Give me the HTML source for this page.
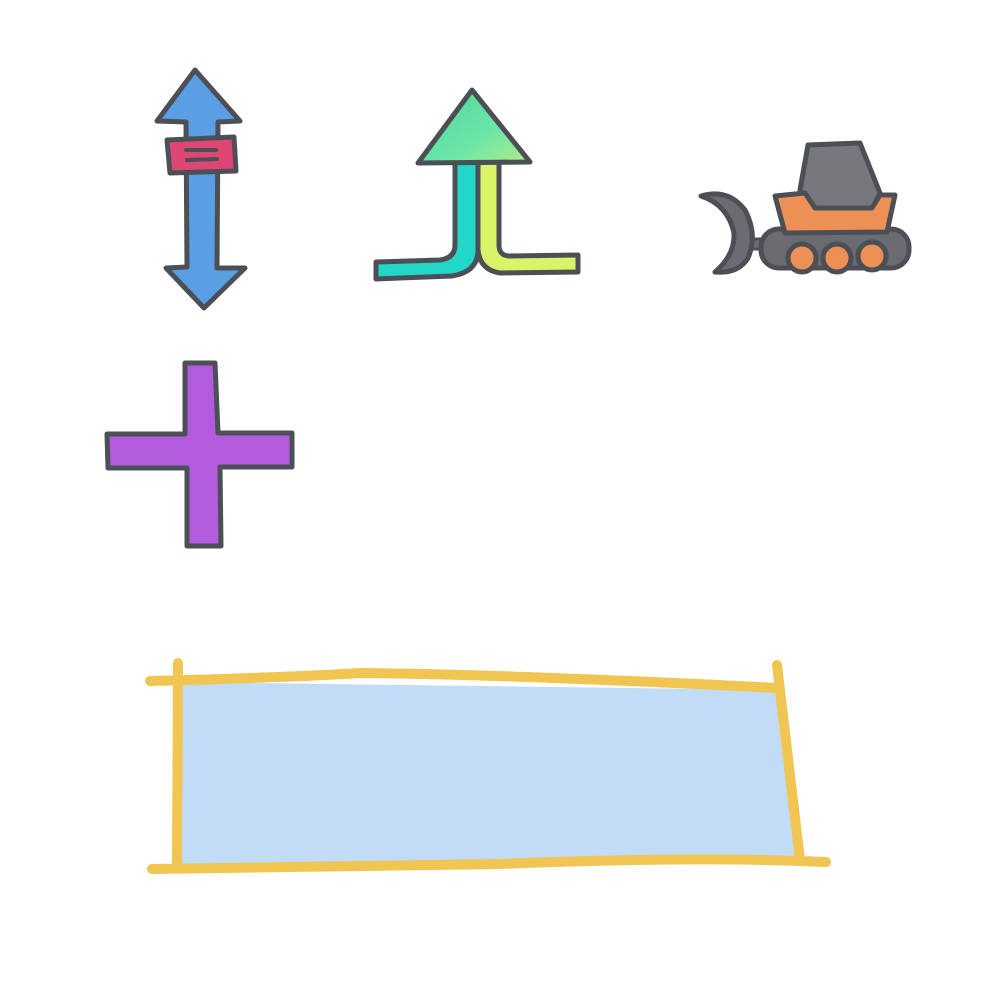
<!DOCTYPE html>
<html><head><meta charset="utf-8"><style>
html,body{margin:0;padding:0;background:#fff;}
svg{display:block;}
</style></head><body>
<svg width="1000" height="1000" viewBox="0 0 1000 1000">
<defs>
<linearGradient id="hg" x1="0" y1="0" x2="1" y2="1"><stop offset="0" stop-color="#52d49a"/><stop offset="0.6" stop-color="#6ae6a8"/><stop offset="1" stop-color="#b2ec8a"/></linearGradient>
</defs>
<g stroke="#4d4f57" stroke-width="5" stroke-linejoin="round" stroke-linecap="round">
<g>
<polygon points="195,70 240,121 218,122 217,268 245,268 204,308 166,268 187,267 186,122 157,121" fill="#5a9ee3"/>
<polygon points="167,140 234,137 236,171 170,173" fill="#de4674"/>
<line x1="186" y1="150" x2="216" y2="150" stroke-width="4"/>
<line x1="187" y1="160" x2="217" y2="159" stroke-width="4"/>
</g>
<g>
<path d="M455,162 L455,245 Q455,258 440,260 L376,262 L376,279 L452,276 Q478,272 478,250 L478,162 Z" fill="#22d6c8"/>
<path d="M478,162 L478,250 Q480,270 500,273 L578,272 L578,255 L510,256 Q499,256 499,245 L499,162 Z" fill="#d8f56a"/>
<polygon points="472,90 530,162 418,163" fill="url(#hg)"/>
</g>
<g>
<rect x="735" y="239" width="32" height="10" fill="#6a6c72" stroke-width="3"/>
<path d="M701,196 Q728,188 745,210 Q758,235 748,258 Q738,274 715,272 Q735,255 734,233 Q728,205 701,196 Z" fill="#6a6c72"/>
<rect x="761" y="229" width="148" height="39" rx="18" fill="#6a6c72"/>
<polygon points="808,145 860,143 880,193 872,210 815,210 800,190" fill="#76787e"/>
<polygon points="775,196 805,193 815,208 872,208 880,195 895,195 887,232 785,233" fill="#ec9055"/>
<circle cx="802" cy="258" r="14" fill="#ec9055"/>
<circle cx="837" cy="258" r="14" fill="#ec9055"/>
<circle cx="872" cy="256" r="14" fill="#ec9055"/>
</g>
<polygon points="185,363 215,363 218,433 292,433 292,467 220,467 221,546 187,546 187,468 108,468 107,434 185,434" fill="#b25bdc"/>
</g>
<g>
<polygon points="178,682 778,690 800,860 178,866" fill="#c2dbf7"/>
<g stroke="#f0c551" stroke-width="10" stroke-linecap="round" fill="none">
<path d="M150,681 Q300,677 360,673 Q500,674 778,688"/>
<path d="M178,663 L177,866"/>
<path d="M777,665 L800,860"/>
<path d="M152,869 Q400,865 500,864 Q700,856 826,862"/>
</g>
</g>
</svg>
</body></html>
